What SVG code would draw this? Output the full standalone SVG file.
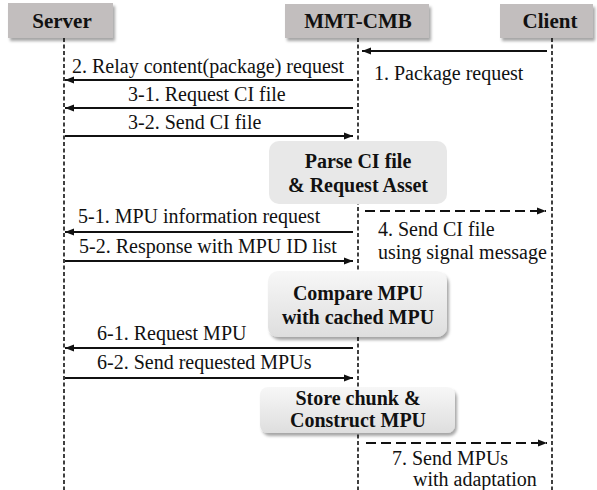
<svg xmlns="http://www.w3.org/2000/svg" width="597" height="490" viewBox="0 0 597 490">
<defs>
<style>
text{font-family:'Liberation Serif','DejaVu Serif',serif}
.t{font-size:20px;fill:#111}
.b{font-size:20px;font-weight:bold;fill:#111;text-anchor:middle}
.h{font-size:21px;font-weight:bold;fill:#111;text-anchor:middle}
.life{stroke:#111;stroke-width:1.6;stroke-dasharray:4 2.5;fill:none}
.msg{stroke:#111;stroke-width:2;fill:none}
.dmsg{stroke:#111;stroke-width:2;stroke-dasharray:10 5;fill:none}
.hdr{fill:#c2bebe}
</style>
<marker id="ah" markerUnits="userSpaceOnUse" markerWidth="10" markerHeight="8" refX="9" refY="4" orient="auto">
<path d="M0,0.5 L9,4 L0,7.5 z" fill="#111"/>
</marker>
<filter id="sh" x="-10%" y="-20%" width="125%" height="150%">
<feDropShadow dx="2" dy="3" stdDeviation="1.8" flood-color="#000" flood-opacity="0.35"/>
</filter>
<linearGradient id="g" x1="0" y1="0" x2="0" y2="1">
<stop offset="0" stop-color="#f7f7f7"/>
<stop offset="1" stop-color="#dedede"/>
</linearGradient>
</defs>
<rect width="597" height="490" fill="#fff"/>

<g id="lifelines">
<line class="life" x1="64" y1="38" x2="64" y2="490"/>
<line class="life" x1="358" y1="38" x2="358" y2="490"/>
<line class="life" x1="552" y1="38" x2="552" y2="490"/>
</g>

<g id="server">
<rect class="hdr" x="8" y="3" width="105" height="35" filter="url(#sh)"/>
<text class="h" x="62" y="28" font-family="Liberation Serif">Server</text>
</g>
<g id="mmtcmb">
<rect class="hdr" x="285" y="4" width="144" height="34" filter="url(#sh)"/>
<text class="h" x="358" y="28" font-family="Liberation Serif">MMT-CMB</text>
</g>
<g id="client">
<rect class="hdr" x="500" y="4" width="93" height="34" filter="url(#sh)"/>
<text class="h" x="550" y="28" font-family="Liberation Serif">Client</text>
</g>

<g id="parse">
<rect x="269" y="141" width="178" height="63" rx="10" fill="#e8e8e8"/>
<text class="b" x="358" y="168" font-family="Liberation Serif">Parse CI file</text>
<text class="b" x="358" y="192" font-family="Liberation Serif">&amp; Request Asset</text>
</g>
<g id="compare">
<rect x="268" y="271" width="179" height="66" rx="10" fill="url(#g)" filter="url(#sh)"/>
<text class="b" x="358" y="300" font-family="Liberation Serif">Compare MPU</text>
<text class="b" x="358" y="324" font-family="Liberation Serif">with cached MPU</text>
</g>
<g id="store">
<rect x="260" y="387" width="195" height="46" rx="8" fill="url(#g)" filter="url(#sh)"/>
<text class="b" x="358" y="405" font-family="Liberation Serif">Store chunk &amp;</text>
<text class="b" x="358" y="427" font-family="Liberation Serif">Construct MPU</text>
</g>

<g id="connectors">
<line class="msg" x1="547" y1="51" x2="362" y2="51" marker-end="url(#ah)"/>
<line class="msg" x1="353" y1="80" x2="65" y2="80" marker-end="url(#ah)"/>
<line class="msg" x1="353" y1="108" x2="65" y2="108" marker-end="url(#ah)"/>
<line class="msg" x1="65" y1="136" x2="353" y2="136" marker-end="url(#ah)"/>
<line class="dmsg" x1="365" y1="211" x2="546" y2="211" marker-end="url(#ah)"/>
<line class="msg" x1="353" y1="232" x2="65" y2="232" marker-end="url(#ah)"/>
<line class="msg" x1="65" y1="261" x2="353" y2="261" marker-end="url(#ah)"/>
<line class="msg" x1="353" y1="348" x2="65" y2="348" marker-end="url(#ah)"/>
<line class="msg" x1="65" y1="378" x2="353" y2="378" marker-end="url(#ah)"/>
<line class="dmsg" x1="366" y1="443" x2="547" y2="443" marker-end="url(#ah)"/>
</g>

<g id="labels" font-family="Liberation Serif">
<text class="t" x="374" y="80">1. Package request</text>
<text class="t" x="72" y="73">2. Relay content(package) request</text>
<text class="t" x="128" y="101">3-1. Request CI file</text>
<text class="t" x="128" y="129">3-2. Send CI file</text>
<text class="t" x="378" y="236">4. Send CI file</text>
<text class="t" x="378" y="259">using signal message</text>
<text class="t" x="78" y="223">5-1. MPU information request</text>
<text class="t" x="79" y="253">5-2. Response with MPU ID list</text>
<text class="t" x="97" y="340">6-1. Request MPU</text>
<text class="t" x="97" y="369">6-2. Send requested MPUs</text>
<text class="t" x="392" y="465">7. Send MPUs</text>
<text class="t" x="413" y="486">with adaptation</text>
</g>
</svg>
